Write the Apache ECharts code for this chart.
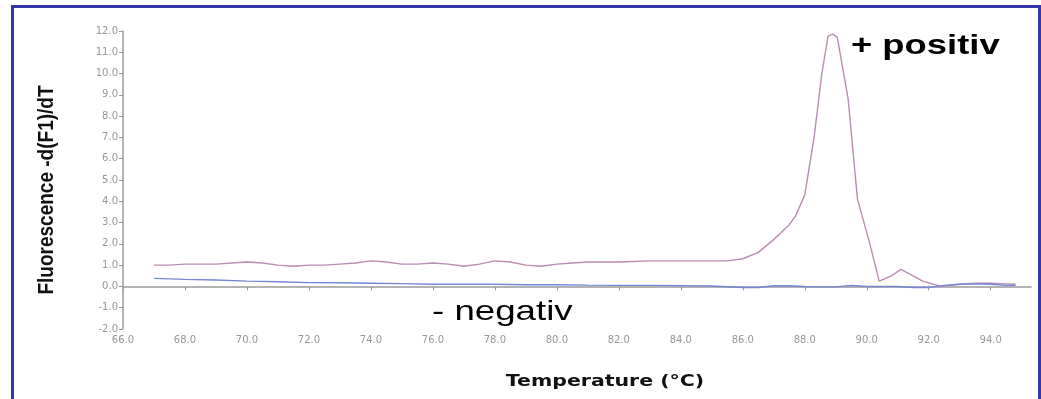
<!DOCTYPE html>
<html>
<head>
<meta charset="utf-8">
<script src="https://cdn.jsdelivr.net/npm/echarts@6/dist/echarts.min.js"></script>
<style>
html,body{margin:0;padding:0;background:#fff;}
#chart{width:1041px;height:399px;}
</style>
</head>
<body>
<div id="chart"></div>
<script>
// Positive sample (temperature °C, -d(F1)/dT)
const positiveTemp = [67.0,67.5,68.0,68.5,69.0,69.5,70.0,70.5,71.0,71.5,72.0,72.5,73.0,73.5,74.0,74.5,75.0,75.5,76.0,76.5,77.0,77.5,78.0,78.5,79.0,79.5,80.0,80.5,81.0,82.0,83.0,84.0,85.0,85.5,86.0,86.5,87.0,87.5,87.7,88.0,88.3,88.55,88.75,88.9,89.05,89.4,89.7,90.1,90.4,90.8,91.1,91.5,91.8,92.4,93.0,93.5,94.0,94.5,94.8];
const positiveVal  = [1.0,1.0,1.05,1.05,1.05,1.1,1.15,1.1,1.0,0.95,1.0,1.0,1.05,1.1,1.2,1.15,1.05,1.05,1.1,1.05,0.95,1.05,1.2,1.15,1.0,0.95,1.05,1.1,1.15,1.15,1.2,1.2,1.2,1.2,1.3,1.6,2.2,2.9,3.3,4.3,7.0,10.0,11.75,11.85,11.7,8.8,4.1,2.0,0.25,0.5,0.8,0.5,0.25,0.0,0.1,0.15,0.15,0.12,0.1];
// Negative sample
const negativeTemp = [67.0,68.0,69.0,70.0,71.0,72.0,73.0,74.0,75.0,76.0,77.0,78.0,79.0,80.0,81.0,82.0,83.0,84.0,85.0,86.0,86.5,87.0,87.5,88.0,88.5,89.0,89.5,90.0,90.5,91.0,91.5,92.0,92.5,93.0,93.5,94.0,94.5,94.8];
const negativeVal  = [0.38,0.33,0.3,0.25,0.22,0.18,0.17,0.15,0.13,0.1,0.1,0.1,0.08,0.08,0.06,0.05,0.05,0.04,0.02,-0.05,-0.05,0.03,0.03,0.0,-0.02,-0.02,0.05,0.0,0.0,0.0,-0.05,-0.05,0.05,0.1,0.12,0.1,0.05,0.05];

const xMin = 66, xMax = 95.3, xStep = 2;
const yMin = -2, yMax = 12, yStep = 1;

const yTitle = 'Fluorescence -d(F1)/dT';
const xTitle = 'Temperature (°C)';
const posLabel = '+ positiv';
const negLabel = '- negativ';

const zip = (a, b) => a.map((v, i) => [v, b[i]]);

const chart = echarts.init(document.getElementById('chart'), null, {renderer: 'canvas'});
const tickFont = {color: '#979797', fontSize: 10, fontFamily: '"DejaVu Sans", sans-serif'};
chart.setOption({
  animation: false,
  backgroundColor: '#ffffff',
  grid: {left: 123, right: 10, top: 31, bottom: 70, containLabel: false},
  xAxis: {
    type: 'value', min: xMin, max: xMax, interval: xStep,
    axisLine: {show: true, lineStyle: {color: '#9a9a9a', width: 1.5}},
    axisTick: {show: true, length: 4, lineStyle: {color: '#9a9a9a'}},
    splitLine: {show: false},
    axisLabel: Object.assign({margin: 6, showMaxLabel: false, formatter: v => v.toFixed(1)}, tickFont)
  },
  yAxis: {
    type: 'value', min: yMin, max: yMax, interval: yStep,
    axisLine: {show: true, lineStyle: {color: '#9a9a9a', width: 1.5}},
    axisTick: {show: true, length: 4, lineStyle: {color: '#9a9a9a'}},
    splitLine: {show: false},
    axisLabel: Object.assign({margin: 5, showMaxLabel: true, showMinLabel: true, formatter: v => v.toFixed(1)}, tickFont)
  },
  series: [
    {type: 'line', name: 'positiv', data: zip(positiveTemp, positiveVal), showSymbol: false, smooth: false,
     lineStyle: {color: '#b98cb2', width: 1.4}},
    {type: 'line', name: 'negativ', data: zip(negativeTemp, negativeVal), showSymbol: false, smooth: false,
     lineStyle: {color: '#7386d8', width: 1.4}}
  ],
  graphic: [
    {type: 'rect', left: 10, top: 4, shape: {width: 1027, height: 420}, style: {fill: 'none', stroke: '#3535a6', lineWidth: 3}, silent: true},
    {type: 'text', x: 47, y: 190, rotation: Math.PI / 2, scaleY: 1.15,
     style: {text: yTitle, fill: '#111', font: 'bold 19px "Liberation Sans", Arial, sans-serif', textAlign: 'center', textVerticalAlign: 'middle'}},
    {type: 'text', x: 605, y: 382, scaleX: 1.28,
     style: {text: xTitle, fill: '#111', font: 'bold 16px "DejaVu Sans", sans-serif', textAlign: 'center', textVerticalAlign: 'middle'}},
    {type: 'text', x: 851, y: 46, scaleX: 1.3,
     style: {text: posLabel, fill: '#000', font: 'bold 28px "Liberation Sans", Arial, sans-serif', textAlign: 'left', textVerticalAlign: 'middle'}},
    {type: 'text', x: 432, y: 312, scaleX: 1.31,
     style: {text: negLabel, fill: '#000', font: '28px "Liberation Sans", Arial, sans-serif', textAlign: 'left', textVerticalAlign: 'middle'}}
  ]
});
</script>
</body>
</html>
